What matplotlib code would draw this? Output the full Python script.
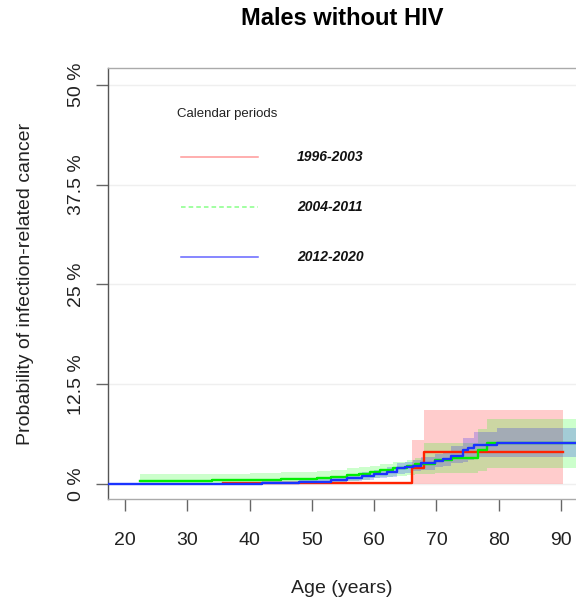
import matplotlib
matplotlib.use("Agg")
import matplotlib.pyplot as plt

plt.rcParams['font.family'] = ['Liberation Sans', 'DejaVu Sans']

# ---- data (cumulative incidence, %) ----
red_age = [35.7, 66.1, 68.0, 90.4]
red_est = [0.1, 2.0, 4.0, 4.0]
red_lo = [0.0, 0.0, 0.0, 0.0]
red_hi = [0.2, 5.5, 9.3, 9.3]

green_age = [22.4, 34, 40, 45, 50.8, 53, 55.6, 57.5, 59.3, 61, 63, 65.2, 66.5, 68.0, 69.8, 72.5, 76.6, 78.1, 92.6]
green_est = [0.42, 0.5, 0.55, 0.6, 0.7, 0.85, 1.1, 1.3, 1.5, 1.7, 2.0, 2.2, 2.5, 2.5, 3.0, 3.2, 4.2, 5.1, 5.1]
green_lo = [0.0, 0.0, 0.05, 0.1, 0.15, 0.25, 0.4, 0.55, 0.7, 0.85, 1.0, 1.1, 1.3, 1.3, 1.4, 1.4, 1.6, 2.0, 2.0]
green_hi = [1.3, 1.3, 1.4, 1.5, 1.6, 1.8, 1.95, 2.1, 2.3, 2.5, 2.8, 3.0, 3.3, 5.1, 5.1, 5.1, 6.9, 8.2, 8.2]

blue_age = [17.0, 35.7, 42, 48, 53, 55.6, 58, 60, 62, 63.6, 65, 66.2, 67.5, 69.8, 71, 72.4, 74.3, 75, 76, 79.7, 92.6]
blue_est = [0.0, 0.05, 0.15, 0.3, 0.5, 0.8, 1.0, 1.2, 1.5, 1.95, 2.1, 2.3, 2.6, 2.9, 3.1, 3.5, 4.2, 4.5, 4.9, 5.2, 5.2]
blue_lo = [0.0, 0.0, 0.0, 0.05, 0.2, 0.4, 0.55, 0.7, 0.9, 1.3, 1.4, 1.6, 1.8, 2.1, 2.3, 2.6, 2.8, 3.0, 3.4, 3.4, 3.4]
blue_hi = [0.0, 0.15, 0.35, 0.6, 0.85, 1.2, 1.45, 1.7, 2.1, 2.6, 2.8, 3.0, 3.4, 3.8, 4.0, 4.7, 5.8, 5.8, 6.5, 7.0, 7.0]

periods = ["1996-2003", "2004-2011", "2012-2020"]
y_ticks = [0, 12.5, 25, 37.5, 50]
y_tick_labels = ["0 %", "12.5 %", "25 %", "37.5 %", "50 %"]
x_ticks = [20, 30, 40, 50, 60, 70, 80, 90]

# ---- figure ----
fig = plt.figure(figsize=(5.76, 6.01), dpi=100)
ax = fig.add_axes([108/576, (601-499)/601, 468/576, 431/601])

ax.set_xlim(17.27, 92.41)
ax.set_ylim(-1.88, 52.13)

for yt in y_ticks:
    ax.axhline(yt, color='#efefef', lw=1.0, zorder=0)

ax.fill_between(red_age, red_lo, red_hi, step='post', color='red', alpha=0.2, lw=0, zorder=1)
ax.fill_between(green_age, green_lo, green_hi, step='post', color='#00ff00', alpha=0.2, lw=0, zorder=1)
ax.fill_between(blue_age, blue_lo, blue_hi, step='post', color='#0000ff', alpha=0.2, lw=0, zorder=1)

ax.step(red_age, red_est, where='post', color='#ff2200', lw=1.7, zorder=3)
ax.step(green_age, green_est, where='post', color='#00ee00', lw=1.7, zorder=3)
ax.step(blue_age, blue_est, where='post', color='#1a33ff', lw=1.7, zorder=4)

# legend (manual, R style)
ax.text(0.147, 0.894, "Calendar periods", transform=ax.transAxes, fontsize=9.5,
        ha='left', va='center', color='#222222')
leg_y = [0.7935, 0.6775, 0.5615]
leg_col = ['#ff9999', '#88ff88', '#6666ff']
leg_ls = ['-', (0, (3, 2)), '-']
for yy, c, ls, lab in zip(leg_y, leg_col, leg_ls, periods):
    ax.plot([0.156, 0.3205], [yy, yy], transform=ax.transAxes, color=c, ls=ls, lw=1.1)
    ax.text(0.404, yy, lab, transform=ax.transAxes, fontsize=10, fontweight='bold',
            fontstyle='italic', ha='left', va='center', color='#111111')

# axes styling
ax.spines['right'].set_visible(False)
ax.spines['left'].set_color('#555555')
ax.spines['top'].set_color('#aaaaaa')
ax.spines['bottom'].set_color('#aaaaaa')
for s in ax.spines.values():
    s.set_linewidth(1.0)

ax.set_yticks(y_ticks)
ax.set_yticklabels(y_tick_labels, rotation=90, va='center', fontsize=14, color='#222222')
ax.set_xticks(x_ticks)
ax.set_xticklabels([str(v) for v in x_ticks], fontsize=14, color='#222222')
ax.tick_params(axis='both', direction='out', length=8.6, width=1.0, color='#666666')
ax.tick_params(axis='y', pad=8)
ax.tick_params(axis='x', pad=15)

ax.set_xlabel("Age (years)", fontsize=14, color='#222222', va='center')
ax.xaxis.set_label_coords(0.5, (499-588.5)/431)
ax.set_ylabel("Probability of infection-related cancer", fontsize=14, color='#222222', va='center')
ax.yaxis.set_label_coords((26-108)/468, 0.5)

ax.text(0.5, (499-18)/431, "Males without HIV", transform=ax.transAxes, ha='center', va='center',
        fontsize=17, fontweight='bold', color='black')

fig.savefig("out.png", dpi=100)
